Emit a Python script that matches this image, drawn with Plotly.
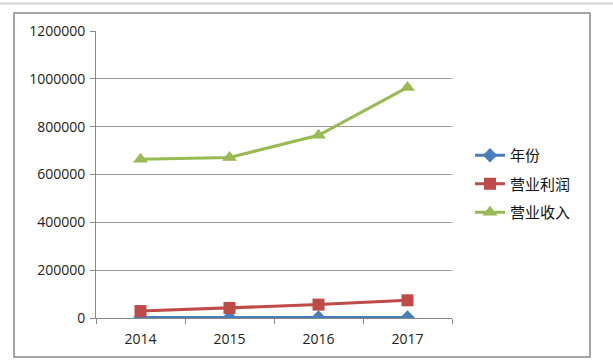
import plotly.graph_objects as go

years = ["2014", "2015", "2016", "2017"]
nianfen = [2014, 2015, 2016, 2017]
profit = [29000, 42000, 56000, 74000]
revenue = [664000, 671000, 764000, 964000]
yticks = [0, 200000, 400000, 600000, 800000, 1000000, 1200000]

W, H = 613, 364
L, R, T, B = 96, 452, 31, 318
pw, ph = R - L, B - T

def px(x):
    return (x - L) / pw

def py(y):
    return (H - y - (H - B)) / ph

fig = go.Figure()
fig.add_trace(go.Scatter(x=years, y=nianfen, name="年份", mode="lines+markers",
                         legendgroup="a",
                         line=dict(color="#4a7ebb", width=3),
                         marker=dict(symbol="diamond", size=11, color="#4a7ebb")))
fig.add_trace(go.Scatter(x=years, y=profit, name="营业利润", mode="lines+markers",
                         legendgroup="b",
                         line=dict(color="#be4b48", width=3),
                         marker=dict(symbol="square", size=12, color="#be4b48")))
fig.add_trace(go.Scatter(x=years, y=revenue, name="营业收入", mode="lines+markers",
                         legendgroup="c",
                         line=dict(color="#98b954", width=3),
                         marker=dict(symbol="triangle-up", size=13, color="#98b954")))

fig.update_layout(
    width=W, height=H,
    margin=dict(l=L, r=W - R, t=T, b=H - B),
    paper_bgcolor="white", plot_bgcolor="white",
    font=dict(family="Open Sans, Liberation Sans, sans-serif", size=14, color="#222"),
    showlegend=True,
    legend=dict(x=px(470), y=py(139), xanchor="left", yanchor="top",
                font=dict(family="Noto Sans CJK SC", size=15, color="#111"),
                tracegroupgap=6, itemwidth=30, bgcolor="rgba(0,0,0,0)"),
    xaxis=dict(type="category", range=[-0.5, 3.5], showgrid=False,
               showline=True, linecolor="#888", linewidth=1,
               ticks="outside", ticklen=5, tickcolor="#888",
               tickson="boundaries", ticklabelstandoff=8,
               tickfont=dict(size=14, family="Open Sans")),
    yaxis=dict(range=[0, 1200000], tickvals=yticks, ticktext=[str(v) for v in yticks],
               showgrid=True, gridcolor="#9a9a9a", gridwidth=1,
               showline=True, linecolor="#888", linewidth=1,
               ticks="outside", ticklen=5, tickcolor="#888",
               zeroline=False, ticklabelstandoff=2,
               tickfont=dict(size=14, family="Open Sans")),
)

# outer chart frame
fig.add_shape(type="rect", xref="paper", yref="paper",
              x0=px(14), x1=px(590), y0=py(357), y1=py(13),
              line=dict(color="#888", width=1.5), layer="below")
# top window line
fig.add_shape(type="line", xref="paper", yref="paper",
              x0=px(0), x1=px(613), y0=py(3.5), y1=py(3.5),
              line=dict(color="#d4d4d4", width=2))

fig.write_html("out.html", config={"displayModeBar": False},
               post_script="document.body.style.margin='0';")
